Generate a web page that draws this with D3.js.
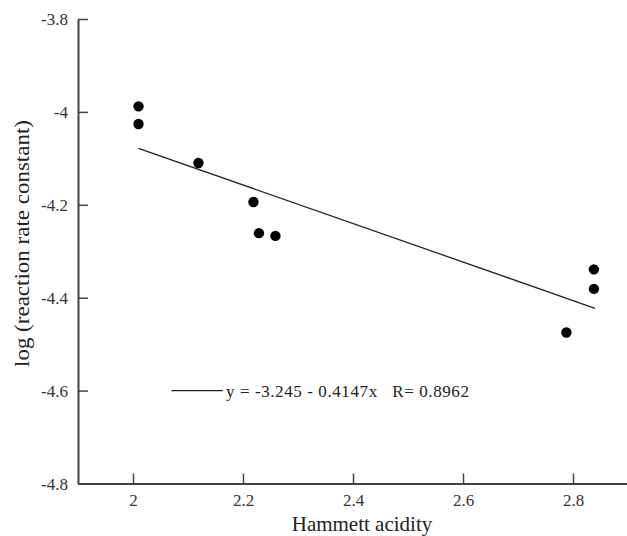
<!DOCTYPE html>
<html><head><meta charset="utf-8">
<script src="https://cdn.jsdelivr.net/npm/d3@7"></script>
<style>body{margin:0;background:#fff;} svg{display:block;} text{font-family:"Liberation Serif","Times New Roman",Times,serif;}</style>
</head><body>
<script>
const xVals = [2.01, 2.01, 2.119, 2.219, 2.229, 2.259, 2.838, 2.838, 2.788];
const yVals = [-3.988, -4.026, -4.110, -4.194, -4.261, -4.267, -4.339, -4.381, -4.475];
const xTicks = [2, 2.2, 2.4, 2.6, 2.8];
const yTicks = [-3.8, -4, -4.2, -4.4, -4.6, -4.8];
const fitIntercept = -3.245, fitSlope = -0.4147;
const fitRange = [2.01, 2.84];
const legendText = "y = -3.245 - 0.4147x   R= 0.8962";

const W = 627, H = 536;
const svg = d3.select("body").append("svg").attr("width", W).attr("height", H);
const x = d3.scaleLinear().domain([1.9, 2.9]).range([78, 628]);
const y = d3.scaleLinear().domain([-4.8, -3.8]).range([483.5, 19]);
const font = "Liberation Serif, Times New Roman, Times, serif";
const axisColor = "#444";

const gx = svg.append("g").attr("transform", `translate(0,${y(-4.8)})`)
  .call(d3.axisBottom(x).tickValues(xTicks).tickSizeInner(-10).tickSizeOuter(0).tickPadding(10).tickFormat(d3.format("")));
const gy = svg.append("g").attr("transform", `translate(${x(1.9)},0)`)
  .call(d3.axisLeft(y).tickValues(yTicks).tickSizeInner(-10).tickSizeOuter(0).tickPadding(10).tickFormat(d => String(d)));
[gx, gy].forEach(g => {
  g.attr("font-family", font).attr("font-size", 17);
  g.select(".domain").attr("stroke", axisColor).attr("stroke-width", 2);
  g.selectAll(".tick line").attr("stroke", axisColor).attr("stroke-width", 1.5);
  g.selectAll(".tick text").attr("fill", "#333");
});
gy.selectAll(".tick text").attr("dy", "0.35em");

// fit line
svg.append("line")
  .attr("x1", x(fitRange[0])).attr("y1", y(fitIntercept + fitSlope * fitRange[0]))
  .attr("x2", x(fitRange[1])).attr("y2", y(fitIntercept + fitSlope * fitRange[1]))
  .attr("stroke", "#222").attr("stroke-width", 1.3);

// points
svg.selectAll("circle.pt").data(xVals.map((v, i) => [v, yVals[i]])).enter()
  .append("circle").attr("class", "pt")
  .attr("cx", d => x(d[0])).attr("cy", d => y(d[1])).attr("r", 5.2).attr("fill", "#000");

// legend
const ly = y(-4.6);
svg.append("line").attr("x1", x(2.07)).attr("x2", x(2.163)).attr("y1", ly).attr("y2", ly)
  .attr("stroke", "#222").attr("stroke-width", 1.3);
svg.append("text").attr("x", x(2.169)).attr("y", ly).attr("dy", "0.35em")
  .attr("font-family", font).attr("font-size", 17).attr("fill", "#222")
  .attr("textLength", 243).attr("lengthAdjust", "spacing")
  .style("white-space", "pre").text(legendText);

// axis titles
svg.append("text").attr("x", 362).attr("y", 531).attr("text-anchor", "middle")
  .attr("font-family", font).attr("font-size", 21).attr("fill", "#222").text("Hammett acidity");
svg.append("text").attr("transform", "translate(29,243.5) rotate(-90)").attr("text-anchor", "middle")
  .attr("font-family", font).attr("font-size", 22).attr("fill", "#222")
  .attr("textLength", 247).attr("lengthAdjust", "spacingAndGlyphs")
  .text("log (reaction rate constant)");
</script>
</body></html>
